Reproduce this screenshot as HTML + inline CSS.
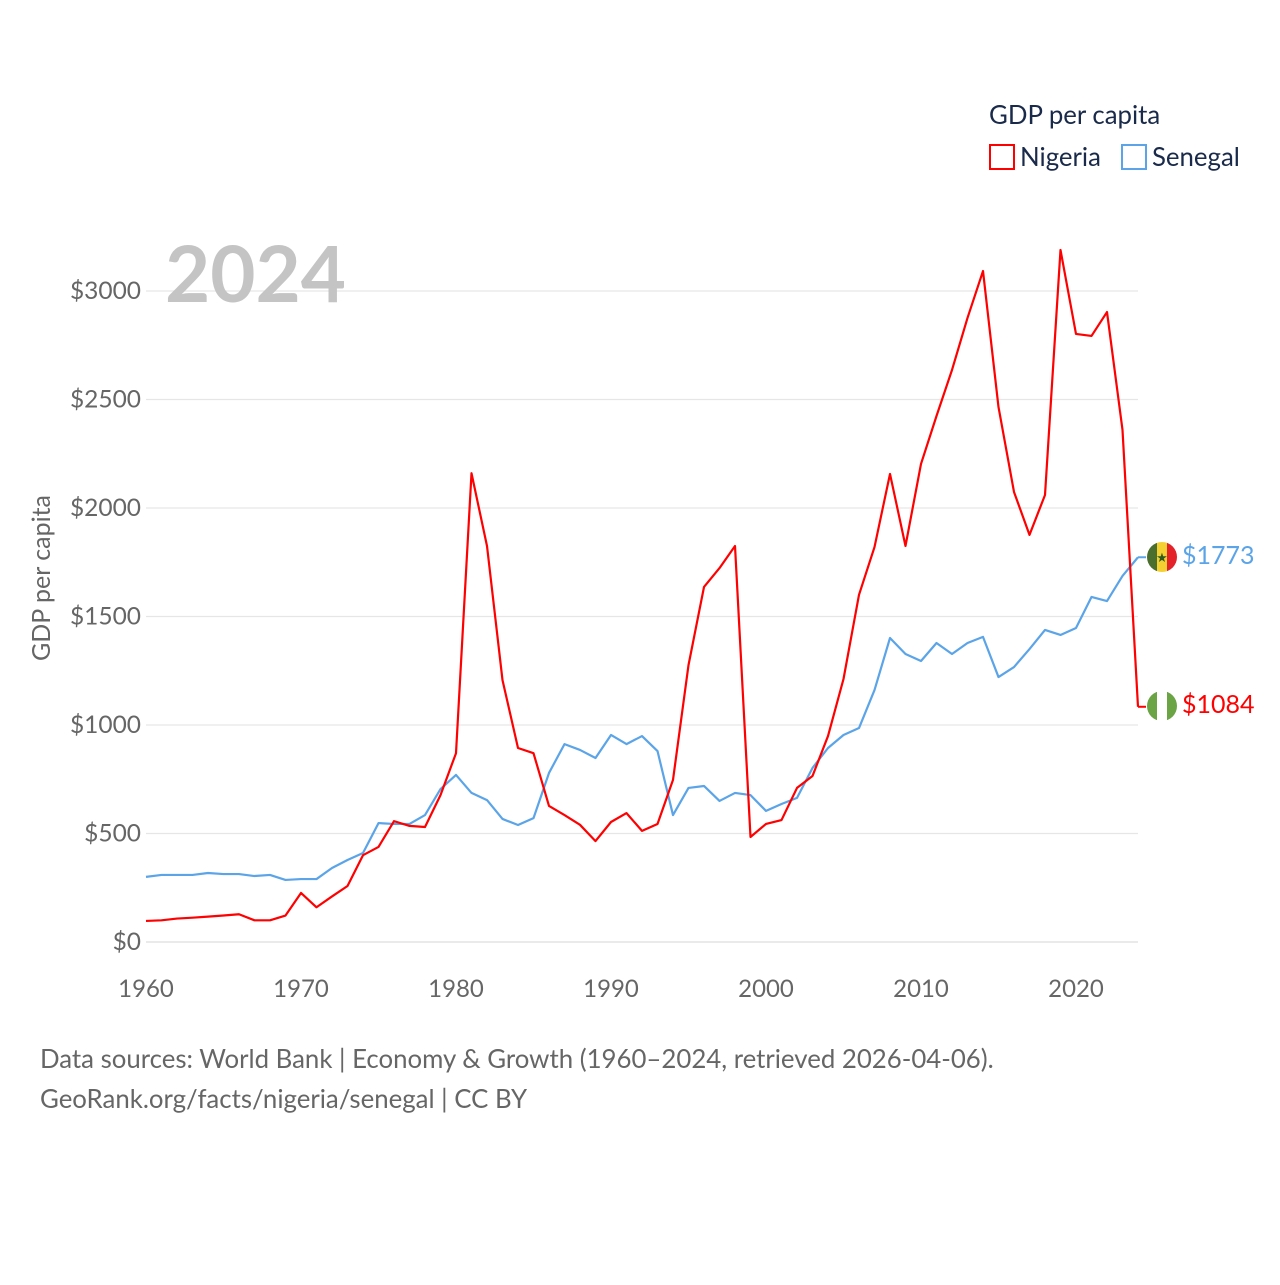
<!DOCTYPE html>
<html><head><meta charset="utf-8"><style>
body{margin:0;background:#fff;font-family:"Liberation Sans",sans-serif}
svg text{font-family:"Lato","Liberation Sans",sans-serif}
</style></head><body>
<svg width="1280" height="1280" viewBox="0 0 1280 1280" xmlns="http://www.w3.org/2000/svg">
<g id="grid"></g>
<g id="yticks"></g>
<g id="xticks"></g>
<text x="165" y="302" font-size="78" font-weight="bold" fill="#c4c4c4">2024</text>
<text transform="translate(50,578) rotate(-90)" text-anchor="middle" font-size="25" fill="#666">GDP per capita</text>
<g id="series"></g>
<g>
<text x="989" y="124" font-size="25.8" fill="#1a2a4a">GDP per capita</text>
<g><rect x="990" y="145" width="24" height="24" fill="none" stroke="#ff0000" stroke-width="2"/><text x="1020" y="166" font-size="25.8" fill="#1a2a4a">Nigeria</text></g>
<g><rect x="1122" y="145" width="24" height="24" fill="none" stroke="#5ba4e8" stroke-width="2"/><text x="1152" y="166" font-size="25.8" fill="#1a2a4a">Senegal</text></g>
</g>
<g>
<clipPath id="cs"><circle cx="1162" cy="557" r="15"/></clipPath>
<g clip-path="url(#cs)"><rect x="1147" y="542" width="10" height="30" fill="#4a6e2e"/><rect x="1157" y="542" width="10" height="30" fill="#f5d033"/><rect x="1167" y="542" width="10" height="30" fill="#e3222a"/><text x="1162" y="562" font-size="13" text-anchor="middle" fill="#2d5a1e">★</text></g>
</g>
<g>
<clipPath id="cn"><circle cx="1162" cy="706" r="15"/></clipPath>
<g clip-path="url(#cn)"><rect x="1147" y="691" width="10" height="30" fill="#6aa444"/><rect x="1157" y="691" width="10" height="30" fill="#fff"/><rect x="1167" y="691" width="10" height="30" fill="#6aa444"/></g>
</g>
<text id="senLbl" x="1182" y="564" font-size="25" fill="#5ba4e8">$1773</text>
<text id="ngLbl" x="1182" y="713" font-size="25" fill="#ff0000">$1084</text>
<text x="40" y="1068" font-size="25.8" fill="#666">Data sources: World Bank | Economy &amp; Growth (1960–2024, retrieved 2026-04-06).</text>
<text x="40" y="1108" font-size="25.8" fill="#666">GeoRank.org/facts/nigeria/senegal | CC BY</text>
</svg>
<script>
const years=[];for(let y=1960;y<=2024;y++)years.push(y);
const nigeria=[97,100,108,112,117,122,128,100,100,122,226,160,210,258,400,438,557,535,530,677,870,2160,1825,1207,894,870,627,585,540,465,553,594,512,544,747,1276,1636,1723,1825,484,544,562,710,765,949,1212,1600,1820,2157,1825,2203,2424,2636,2876,3092,2465,2074,1876,2060,3189,2802,2793,2903,2360,1084];
const senegal=[300,309,309,309,318,313,313,304,309,286,290,290,341,378,410,548,544,544,585,705,770,687,654,567,539,571,779,912,885,848,954,912,949,880,585,710,719,650,687,677,604,636,664,802,894,954,986,1161,1401,1327,1295,1378,1327,1378,1406,1221,1267,1350,1438,1415,1447,1590,1571,1687,1773];
const yTicks=[0,500,1000,1500,2000,2500,3000];
const xTicks=[1960,1970,1980,1990,2000,2010,2020];
const NS="http://www.w3.org/2000/svg";
const X=y=>146+(y-1960)*15.5;
const Y=v=>942-v*0.217;
const grid=document.getElementById('grid'),yt=document.getElementById('yticks'),xt=document.getElementById('xticks'),ser=document.getElementById('series');
yTicks.forEach(v=>{
const l=document.createElementNS(NS,'line');


l.setAttribute('x1',146);l.setAttribute('x2',1138);l.setAttribute('y1',Y(v));l.setAttribute('y2',Y(v));
l.setAttribute('stroke',v===0?'#ddd':'#e6e6e6');l.setAttribute('stroke-width',1.3);grid.appendChild(l);
const t=document.createElementNS(NS,'text');


t.setAttribute('x',141);t.setAttribute('y',Y(v)+8);t.setAttribute('text-anchor','end');t.setAttribute('font-size','24.5');t.setAttribute('fill','#666');
t.textContent='$'+v;yt.appendChild(t);
});
xTicks.forEach(y=>{
const t=document.createElementNS(NS,'text');


t.setAttribute('x',X(y));t.setAttribute('y',997);t.setAttribute('text-anchor','middle');t.setAttribute('font-size','24');t.setAttribute('fill','#666');
t.textContent=y;xt.appendChild(t);
});
function line(vals,color,name){
const p=document.createElementNS(NS,'polyline');


p.setAttribute('points',vals.map((v,i)=>X(years[i])+','+Y(v)).join(' '));
p.setAttribute('fill','none');p.setAttribute('stroke',color);p.setAttribute('stroke-width',2.2);p.setAttribute('stroke-linejoin','round');
ser.appendChild(p);
const e=document.createElementNS(NS,'line');


const last=vals[vals.length-1];
e.setAttribute('x1',X(2024));e.setAttribute('x2',X(2024)+8);e.setAttribute('y1',Y(last));e.setAttribute('y2',Y(last));e.setAttribute('stroke',color);e.setAttribute('stroke-width',2);
ser.appendChild(e);
}
line(senegal,'#5ba4e8','senegal-line');
line(nigeria,'#ff0000','nigeria-line');
document.getElementById('senLbl').textContent='$'+senegal[senegal.length-1];
document.getElementById('ngLbl').textContent='$'+nigeria[nigeria.length-1];
</script>
</body></html>
